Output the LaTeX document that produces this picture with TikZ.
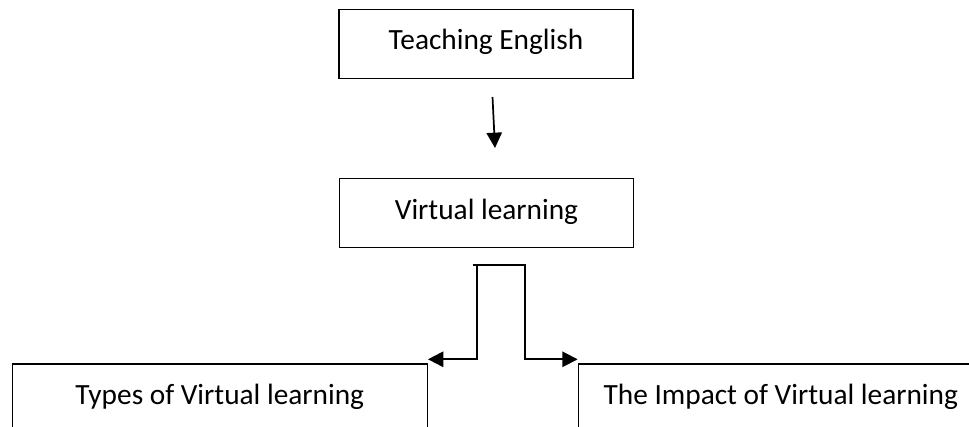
\documentclass[tikz,border=0pt]{standalone}
\usepackage{fontspec}
\setmainfont{Carlito}
\usetikzlibrary{arrows.meta}
\begin{document}
\begin{tikzpicture}[x=0.75pt,y=-0.75pt,
  box/.style={draw=black, line width=1pt, inner sep=0pt, rectangle,
    minimum height=51.75pt, text height=15.5pt, text depth=6.5pt,
    font=\fontsize{22pt}{26pt}\selectfont},
  link/.style={draw=black, line width=1.5pt},
  tip/.style={-{Triangle[length=11.5pt,width=11.5pt]}}]
\useasboundingbox (0,0) rectangle (969,427);
\clip (0,0) rectangle (969,427);
\fill[white] (0,0) rectangle (969,427);
% boxes
\node[box, minimum width=220.5pt] (teach) at (486,44) {Teaching English};
\node[box, minimum width=220.5pt] (virt) at (486.5,213.3) {Virtual learning};
\node[box, minimum width=311.25pt] (types) at (219.8,398.5) {Types of Virtual learning};
\node[box, minimum width=303.75pt] (impact) at (780.8,398.5) {The Impact of Virtual learning};
% top arrow
\coordinate (a1) at (492.5,97);
\coordinate (a2) at (495,148);
\draw[link, line width=1.3pt, tip] (a1) -- (a2);
% bracket
\coordinate (btl) at (472.7,265);
\coordinate (btr) at (526,265);
\coordinate (bl) at (476.7,265);
\coordinate (br) at (525,265);
\coordinate (bl2) at (476.7,359.3);
\coordinate (br2) at (525,359.3);
\draw[link] (btl) -- (btr);
\draw[link, tip] (bl) -- (bl2) -- (bl2 -| types.east);
\draw[link, tip] (br) -- (br2) -- (br2 -| impact.west);
\end{tikzpicture}
\end{document}
